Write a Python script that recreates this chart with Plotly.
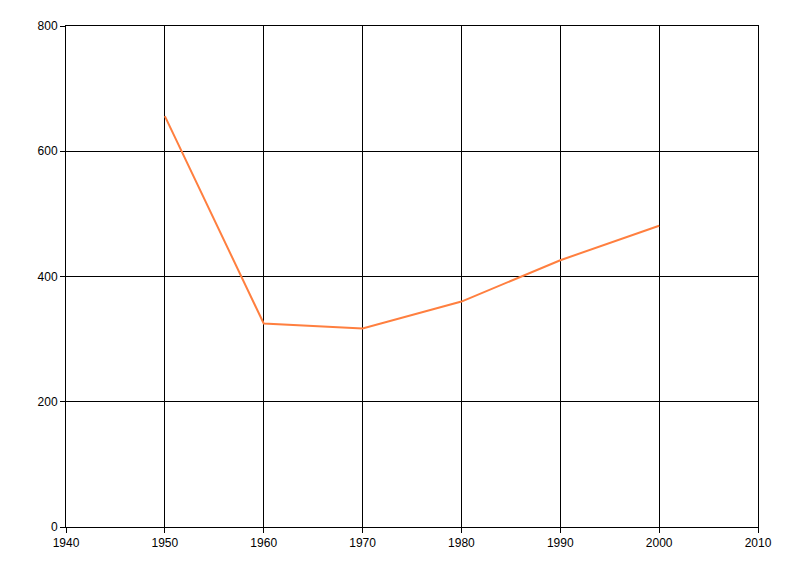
import plotly.graph_objects as go

years = [1950, 1960, 1970, 1980, 1990, 2000]
values = [656, 325, 317, 360, 426, 481]
x_ticks = [1940, 1950, 1960, 1970, 1980, 1990, 2000, 2010]
y_ticks = [0, 200, 400, 600, 800]

fig = go.Figure()
fig.add_trace(go.Scatter(x=years, y=values, mode="lines",
                         line=dict(color="rgb(255,127,63)", width=2)))

axis_common = dict(showgrid=True, gridcolor="black", gridwidth=1,
                   showline=True, linecolor="black", linewidth=1, mirror=True,
                   ticks="outside", ticklen=5, tickcolor="black",
                   zeroline=False, tickfont=dict(family="Liberation Sans, DejaVu Sans", size=12, color="black"))

fig.update_layout(
    width=800, height=576,
    margin=dict(l=58, r=50, t=18, b=57),
    paper_bgcolor="white", plot_bgcolor="white",
    showlegend=False,
    xaxis=dict(range=[1940, 2010], tickvals=x_ticks, ticklabelstandoff=0, **axis_common),
    yaxis=dict(range=[0, 800], tickvals=y_ticks, ticklabelstandoff=0, **axis_common),
)
fig.write_html("out.html")
